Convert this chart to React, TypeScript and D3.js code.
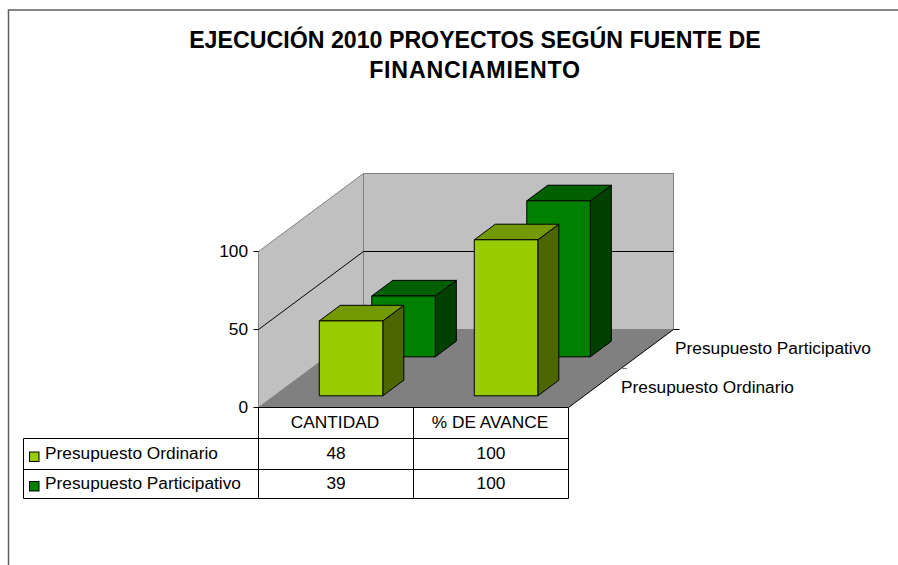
import React from "react";
import * as d3 from "d3";

const categories = ["CANTIDAD", "% DE AVANCE"];
const seriesNames = ["Presupuesto Ordinario", "Presupuesto Participativo"];
const ordinario = [48, 100];
const participativo = [39, 100];
const yTicks = [0, 50, 100];
const titleLines = [
  "EJECUCIÓN 2010 PROYECTOS SEGÚN FUENTE DE",
  "FINANCIAMIENTO",
];

const FONT = "'Liberation Sans', Arial, sans-serif";
const LABEL_SIZE = 17.3;

const seriesValues = [ordinario, participativo];
const faceColors = [
  { front: "#99cc00", top: "#739900", side: "#4d6600" },
  { front: "#008000", top: "#006000", side: "#004000" },
];

// front plane of the 3d box
const left = 258.5;
const right = 568.5;
const bottom = 407.5;
const top100 = 251.5;
// how far the back wall is pushed from the front plane
const depthX = 105;
const depthY = 78;

const y = d3.scaleLinear().domain([0, 100]).range([bottom, top100]);
// bars sit about a pixel left of the grid in the original
const x = d3
  .scaleBand<string>()
  .domain(categories)
  .range([left - 0.7, right - 0.7])
  .paddingInner(0.59)
  .paddingOuter(0.295);
const cell = d3.scaleBand<string>().domain(categories).range([left, right]);
const z = d3
  .scaleBand<string>()
  .domain(seriesNames)
  .range([0, depthY])
  .paddingInner(0.6)
  .paddingOuter(0.3);
// depth in px up the screen -> px to the right
const zx = d3.scaleLinear().domain([0, depthY]).range([0, depthX]);

const poly = (pts: [number, number][]) => d3.line()(pts) + "Z";

const Bar = ({ cat, value, s }: { cat: string; value: number; s: number }) => {
  const name = seriesNames[s];
  const d0 = z(name)!;
  const d = z.bandwidth();
  const x0 = x(cat)! + zx(d0);
  const x1 = x0 + x.bandwidth();
  const yb = y(0) - d0;
  const yt = y(value) - d0;
  const ox = zx(d);
  const c = faceColors[s];
  return (
    <g stroke="#000" strokeWidth={1} strokeLinejoin="round">
      <path
        d={poly([[x1, yt], [x1 + ox, yt - d], [x1 + ox, yb - d], [x1, yb]])}
        fill={c.side}
      />
      <path
        d={poly([[x0, yt], [x0 + ox, yt - d], [x1 + ox, yt - d], [x1, yt]])}
        fill={c.top}
      />
      <rect x={x0} y={yt} width={x1 - x0} height={yb - yt} fill={c.front} />
    </g>
  );
};

const App = () => {
  const backX0 = left + depthX;
  const backX1 = right + depthX;
  const tableLeft = 23.5;
  const headerBottom = 438.5;
  const rowBottoms = [469.5, 498.5];
  const rowMid = [453, 483];
  const keyY = [452, 481.5];

  return (
    <svg
      width={898}
      height={565}
      style={{ position: "absolute", left: 0, top: 0, display: "block" }}
      fontFamily={FONT}
    >
      <rect width={898} height={565} fill="#fff" />
      {/* page frame */}
      <path d="M8.5,565V10H898" fill="none" stroke="#606060" strokeWidth={1.5} />

      {titleLines.map((t, i) => (
        <text
          key={t}
          x={475}
          y={48 + i * 30}
          textAnchor="middle"
          fontSize={23.2}
          fontWeight="bold"
          letterSpacing={i === 1 ? 0.8 : 0}
        >
          {t}
        </text>
      ))}

      {/* walls and floor */}
      <path
        d={poly([
          [left, bottom],
          [backX0, bottom - depthY],
          [backX0, top100 - depthY],
          [left, top100],
        ])}
        fill="#c0c0c0"
        stroke="#808080"
        strokeWidth={1}
      />
      <rect
        x={backX0}
        y={top100 - depthY}
        width={right - left}
        height={bottom - top100}
        fill="#c0c0c0"
        stroke="#808080"
        strokeWidth={1}
      />
      <path
        d={poly([
          [left, bottom],
          [backX0, bottom - depthY],
          [backX1, bottom - depthY],
          [right, bottom],
        ])}
        fill="#808080"
      />
      {yTicks
        .filter((t) => t > 0 && t < 100)
        .map((t) => (
          <path
            key={t}
            d={`M${left},${y(t)}L${backX0},${y(t) - depthY}H${backX1}`}
            fill="none"
            stroke="#000"
            strokeWidth={1}
          />
        ))}

      {/* y axis */}
      {yTicks.map((t) => (
        <g key={t}>
          <path d={`M${left - 5},${y(t)}H${left}`} stroke="#000" />
          <text
            x={left - 10.5}
            y={y(t) + 5}
            textAnchor="end"
            fontSize={LABEL_SIZE}
          >
            {t}
          </text>
        </g>
      ))}

      {/* depth axis */}
      <path
        d={`M${right},${bottom}L${backX1},${bottom - depthY}H${backX1 + 6}`}
        fill="none"
        stroke="#000"
      />
      <path
        d={`M${right + depthX / 2},${bottom - depthY / 2}h6`}
        stroke="#808080"
      />
      <text x={621} y={393} fontSize={LABEL_SIZE}>
        {seriesNames[0]}
      </text>
      <text x={675} y={354} fontSize={LABEL_SIZE}>
        {seriesNames[1]}
      </text>

      {/* bars, back row first */}
      {[1, 0].map((s) =>
        categories.map((c, i) => (
          <Bar key={c + s} cat={c} value={seriesValues[s][i]} s={s} />
        ))
      )}

      {/* data table */}
      <g stroke="#000" strokeWidth={1} fill="none">
        <path d={`M${left},${bottom}H${right}`} />
        <path d={`M${tableLeft},${headerBottom}H${right}`} />
        <path d={`M${tableLeft},${rowBottoms[0]}H${right}`} />
        <path d={`M${tableLeft},${rowBottoms[1]}H${right}`} />
        <path d={`M${tableLeft},${headerBottom}V${rowBottoms[1]}`} />
        <path d={`M${left},${bottom}V${rowBottoms[1]}`} />
        <path d={`M${cell(categories[1])},${bottom}V${rowBottoms[1]}`} />
        <path d={`M${right},${bottom}V${rowBottoms[1]}`} />
      </g>
      {categories.map((c) => (
        <text
          key={c}
          x={cell(c)! + cell.bandwidth() / 2 - 1}
          y={428}
          textAnchor="middle"
          fontSize={LABEL_SIZE}
        >
          {c}
        </text>
      ))}
      {seriesNames.map((n, s) => (
        <g key={n}>
          <rect
            x={29.5}
            y={keyY[s]}
            width={9.5}
            height={9.5}
            fill={faceColors[s].front}
            stroke="#000"
          />
          <text x={45} y={rowMid[s] + 6} fontSize={LABEL_SIZE}>
            {n}
          </text>
          {categories.map((c, i) => (
            <text
              key={c}
              x={cell(c)! + cell.bandwidth() / 2}
              y={rowMid[s] + 6}
              textAnchor="middle"
              fontSize={LABEL_SIZE}
            >
              {seriesValues[s][i]}
            </text>
          ))}
        </g>
      ))}
    </svg>
  );
};

export default App;
